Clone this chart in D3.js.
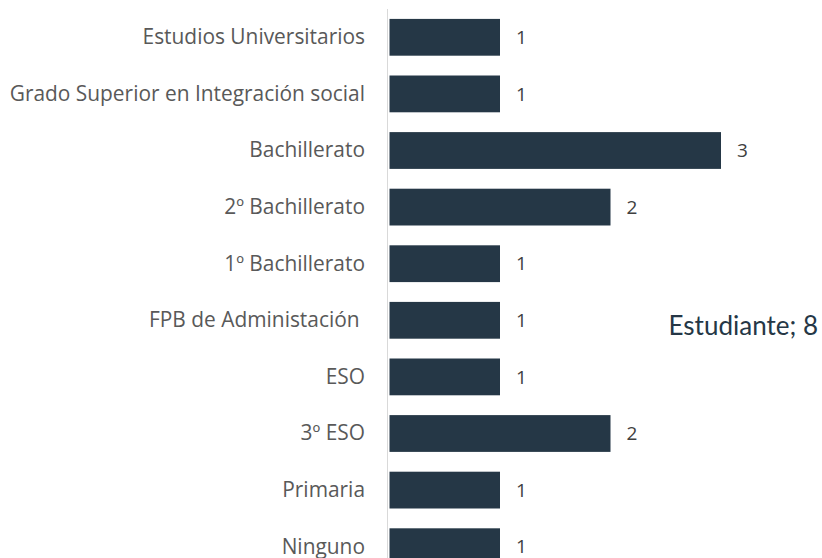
<!DOCTYPE html>
<html>
<head>
<meta charset="utf-8">
<script src="https://cdn.jsdelivr.net/npm/d3@7"></script>
<style>
  body { margin: 0; background: #fff; }
  text { white-space: pre; }
</style>
</head>
<body>
<div id="chart"></div>
<script>
// categories top to bottom, with counts
const categories = [
  "Estudios Universitarios",
  "Grado Superior en Integración social",
  "Bachillerato",
  "2º Bachillerato",
  "1º Bachillerato",
  "FPB de Administación ",
  "ESO",
  "3º ESO",
  "Primaria",
  "Ninguno"
];
const counts = [1, 1, 3, 2, 1, 1, 1, 2, 1, 1];
const seriesLabel = "Estudiante";
const seriesTotal = 8;

const width = 822, height = 558;
const barColor = "#253746";

const svg = d3.select("#chart").append("svg")
  .attr("width", width)
  .attr("height", height);

const x = d3.scaleLinear().domain([0, 3]).range([389.5, 721]);
const y = d3.scaleBand().domain(categories).range([9, 575])
  .paddingInner(0.35).paddingOuter(0.175);

// axis line
svg.append("line")
  .attr("x1", 387.5).attr("x2", 387.5)
  .attr("y1", 9).attr("y2", height)
  .attr("stroke", "#d9d9d9")
  .attr("stroke-width", 1);

// bars
svg.selectAll("rect.bar")
  .data(categories)
  .enter()
  .append("rect")
  .attr("class", "bar")
  .attr("x", x(0))
  .attr("y", d => y(d))
  .attr("width", (d, i) => x(counts[i]) - x(0))
  .attr("height", y.bandwidth())
  .attr("fill", barColor);

// category labels
svg.selectAll("text.cat")
  .data(categories)
  .enter()
  .append("text")
  .attr("class", "cat")
  .attr("x", 365)
  .attr("y", d => y(d) + y.bandwidth() / 2)
  .attr("dy", "0.33em")
  .attr("text-anchor", "end")
  .attr("font-family", "'Open Sans', sans-serif")
  .attr("font-size", 20.9)
  .attr("fill", "#595959")
  .text(d => d);

// value labels
svg.selectAll("text.val")
  .data(categories)
  .enter()
  .append("text")
  .attr("class", "val")
  .attr("x", (d, i) => x(counts[i]) + 16)
  .attr("y", d => y(d) + y.bandwidth() / 2)
  .attr("dy", "0.35em")
  .attr("font-family", "'Open Sans', sans-serif")
  .attr("font-size", 19)
  .attr("fill", "#404040")
  .text((d, i) => counts[i]);

// series label
svg.append("text")
  .attr("x", 818)
  .attr("y", 335)
  .attr("text-anchor", "end")
  .attr("font-family", "Lato, sans-serif")
  .attr("font-size", 26)
  .attr("fill", barColor)
  .text(seriesLabel + "; " + seriesTotal);
</script>
</body>
</html>
